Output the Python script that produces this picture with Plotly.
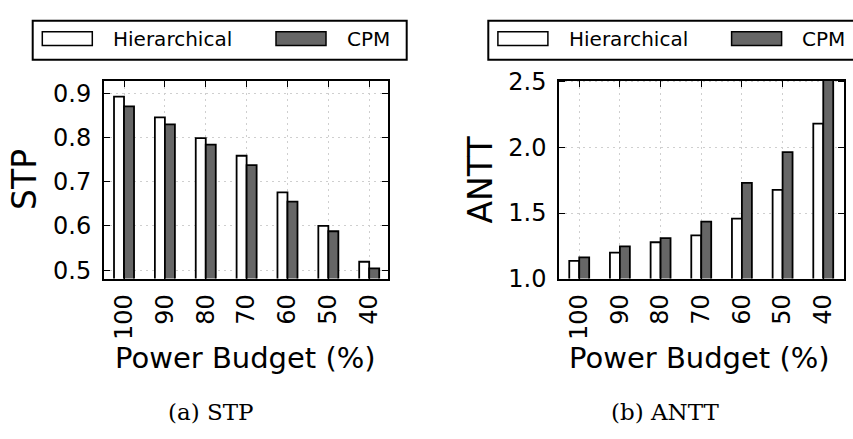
import plotly.graph_objects as go

W, H = 853, 439

budgets = ["100", "90", "80", "70", "60", "50", "40"]
stp_hier = [0.893, 0.846, 0.799, 0.759, 0.676, 0.600, 0.519]
stp_cpm = [0.871, 0.830, 0.784, 0.738, 0.655, 0.588, 0.504]
antt_hier = [1.134, 1.198, 1.277, 1.330, 1.457, 1.677, 2.182]
antt_cpm = [1.162, 1.246, 1.309, 1.435, 1.730, 1.965, 2.600]

series_names = ["Hierarchical", "CPM"]
series_fill = ["white", "#666666"]
xtitle = "Power Budget (%)"
ytitles = ["STP", "ANTT"]
captions = ["(a) STP", "(b) ANTT"]

SANS = "DejaVu Sans"
SERIF = "DejaVu Serif"


def px(x):
    return x / W


def py(y):
    return 1 - y / H


fig = go.Figure()

data = [(stp_hier, stp_cpm, "x", "y"), (antt_hier, antt_cpm, "x2", "y2")]
for hv, cv, xa, ya in data:
    for vals, name, fill in zip([hv, cv], series_names, series_fill):
        fig.add_trace(go.Bar(
            x=budgets, y=vals, name=name, xaxis=xa, yaxis=ya,
            marker=dict(color=fill, line=dict(color="black", width=1.8)),
            showlegend=False,
        ))

axis_common = dict(
    showline=True, linecolor="black", linewidth=2, mirror="ticks",
    ticks="inside", ticklen=6, tickcolor="black", tickwidth=1,
    showgrid=True, gridcolor="#cfcfcf", griddash="2px,4px", gridwidth=1,
    tickfont=dict(family=SANS, size=24, color="black"),
    zeroline=False,
)

y_top, y_bot = 73.0, 283.3
fig.update_layout(
    width=W, height=H,
    margin=dict(l=0, r=0, t=0, b=0),
    paper_bgcolor="white", plot_bgcolor="white",
    barmode="group", bargap=0.51, bargroupgap=0,
    xaxis=dict(domain=[px(104), px(388)], anchor="y", range=[-0.49, 6.46],
               type="category", tickangle=-90, ticklabelstandoff=4, **axis_common),
    yaxis=dict(domain=[py(y_bot), py(y_top)], anchor="x", range=[0.481, 0.929],
               dtick=0.1, tickformat=".1f", ticklabelstandoff=6, **axis_common),
    xaxis2=dict(domain=[px(559.3), px(844)], anchor="y2", range=[-0.49, 6.51],
                type="category", tickangle=-90, ticklabelstandoff=4, **axis_common),
    yaxis2=dict(domain=[py(y_bot), py(y_top)], anchor="x2", range=[1.0, 2.51],
                dtick=0.5, tickformat=".1f", ticklabelstandoff=6, **axis_common),
)

shapes = []
annotations = []
for off in [0.0, 455.6]:
    shapes.append(dict(type="rect", xref="paper", yref="paper",
                       x0=px(32.7 + off), x1=px(406.7 + off), y0=py(50.7), y1=py(9.3),
                       line=dict(color="black", width=2), fillcolor="white", layer="above"))
    for sx, tx, name, fill in zip([42.3, 276.0], [113.3, 346.7], series_names, series_fill):
        shapes.append(dict(type="rect", xref="paper", yref="paper",
                           x0=px(sx + off), x1=px(sx + 50 + off), y0=py(35.7), y1=py(21),
                           line=dict(color="black", width=1.5), fillcolor=fill, layer="above"))
        annotations.append(dict(text=name, xref="paper", yref="paper",
                                x=px(tx + off - 2), y=py(29), xanchor="left", yanchor="middle",
                                showarrow=False, font=dict(family=SANS, size=20, color="black")))

for cx, t in zip([24.5, 480.0], ytitles):
    annotations.append(dict(text=t, xref="paper", yref="paper", x=px(cx), y=py(178),
                            xanchor="center", yanchor="middle", textangle=-90, showarrow=False,
                            font=dict(family=SANS, size=33, color="black")))
for cx in [245.0, 699.7]:
    annotations.append(dict(text=xtitle, xref="paper", yref="paper", x=px(cx), y=py(368),
                            xanchor="center", yanchor="middle", showarrow=False,
                            font=dict(family=SANS, size=29, color="black")))
for cx, t in zip([211.0, 665.0], captions):
    annotations.append(dict(text=t, xref="paper", yref="paper", x=px(cx), y=py(425),
                            xanchor="center", yanchor="middle", showarrow=False,
                            font=dict(family=SERIF, size=23, color="black")))

fig.update_layout(shapes=shapes, annotations=annotations)
fig.write_html("out.html")
